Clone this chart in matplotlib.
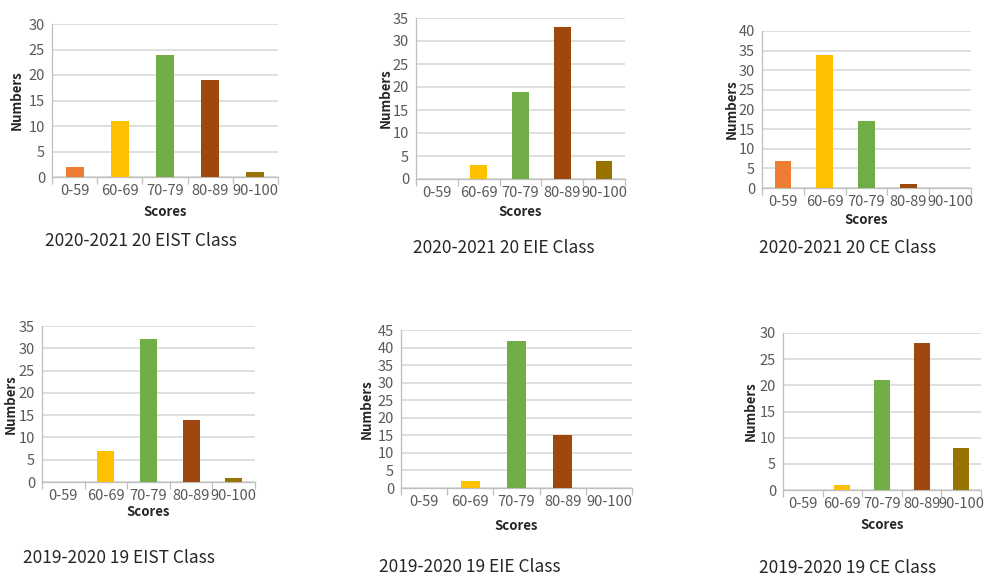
import matplotlib
matplotlib.use("Agg")
import matplotlib.pyplot as plt
from matplotlib.ticker import MultipleLocator, FixedLocator

plt.rcParams['font.family'] = ['Noto Sans CJK SC', 'DejaVu Sans']

W, H = 987, 576

score_bands = ["0-59", "60-69", "70-79", "80-89", "90-100"]
band_colors = ["#ED7D31", "#FFC000", "#70AD47", "#9E480E", "#997300"]

eist_2020 = [2, 11, 24, 19, 1]
eie_2020 = [0, 3, 19, 33, 4]
ce_2020 = [7, 34, 17, 1, 0]
eist_2019 = [0, 7, 32, 14, 1]
eie_2019 = [0, 2, 42, 15, 0]
ce_2019 = [0, 1, 21, 28, 8]

class_titles = [
    "2020-2021 20 EIST Class", "2020-2021 20 EIE Class", "2020-2021 20 CE Class",
    "2019-2020 19 EIST Class", "2019-2020 19 EIE Class", "2019-2020 19 CE Class",
]
class_counts = [eist_2020, eie_2020, ce_2020, eist_2019, eie_2019, ce_2019]
y_max = [30, 35, 40, 35, 45, 30]

# panel layout in pixels: plot box (left, top, right, bottom),
# "Numbers" x, "Scores" y, title centre (x, y)
panels = [
    dict(box=(52, 24, 278, 177), ylab_x=17, xlab_y=212, title=(141, 241)),
    dict(box=(416, 18, 625, 179), ylab_x=386, xlab_y=212, title=(504, 248)),
    dict(box=(762, 31, 971, 188), ylab_x=732, xlab_y=220, title=(848, 248)),
    dict(box=(42, 326, 255, 482), ylab_x=11, xlab_y=512, title=(119, 558)),
    dict(box=(401, 330, 632, 488), ylab_x=367, xlab_y=526, title=(470, 567)),
    dict(box=(783, 333, 981, 490), ylab_x=751, xlab_y=525, title=(848, 568)),
]

fig = plt.figure(figsize=(W / 100, H / 100), dpi=100)
fig.patch.set_facecolor("white")

grid_c = "#D9D9D9"
axis_c = "#BFBFBF"
tick_text_c = "#595959"
label_c = "#262626"

for counts, ymax, title, p in zip(class_counts, y_max, class_titles, panels):
    l, t, r, b = p["box"]
    ax = fig.add_axes([l / W, 1 - b / H, (r - l) / W, (b - t) / H])
    x = list(range(len(score_bands)))
    ax.bar(x, counts, width=0.4, color=band_colors, zorder=3)
    ax.set_xlim(-0.5, len(score_bands) - 0.5)
    ax.set_ylim(0, ymax)
    ax.yaxis.set_major_locator(MultipleLocator(5))
    ax.set_xticks(x)
    ax.set_xticklabels(score_bands)
    ax.xaxis.set_minor_locator(FixedLocator([i - 0.5 for i in range(len(score_bands) + 1)]))
    ax.tick_params(axis="x", which="major", length=0, pad=5, labelsize=10.5, labelcolor=tick_text_c)
    ax.tick_params(axis="x", which="minor", length=5, width=0.9, color=axis_c, direction="out")
    ax.tick_params(axis="y", length=0, pad=5, labelsize=10.5, labelcolor=tick_text_c)
    ax.grid(axis="y", color=grid_c, linewidth=1.2, zorder=0)
    for s in ("top", "right"):
        ax.spines[s].set_visible(False)
    for s in ("left", "bottom"):
        ax.spines[s].set_color(axis_c)
        ax.spines[s].set_linewidth(0.9)
    ax.set_facecolor("none")

    fig.text(p["ylab_x"] / W, 1 - (t + b) / 2 / H, "Numbers", rotation=90,
             ha="center", va="center", fontsize=9.5, fontweight="bold", color=label_c)
    fig.text((l + r) / 2 / W, 1 - p["xlab_y"] / H, "Scores",
             ha="center", va="center", fontsize=9.5, fontweight="bold", color=label_c)
    fig.text(p["title"][0] / W, 1 - p["title"][1] / H, title,
             ha="center", va="center", fontsize=12.5, color="#262626")

fig.savefig("out.png", dpi=100, facecolor="white")
